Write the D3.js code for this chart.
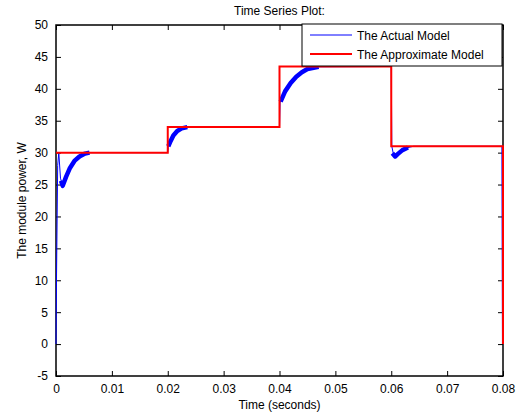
<html>
<head>
<meta charset="utf-8">
<script src="https://cdnjs.cloudflare.com/ajax/libs/d3/7.8.5/d3.min.js"></script>
<style>
  body { margin: 0; background: #fff; }
  text { font-family: "Liberation Sans", Arial, sans-serif; }
</style>
</head>
<body>
<script>
// x ticks (seconds) and y ticks (W)
const xTicks = [0, 0.01, 0.02, 0.03, 0.04, 0.05, 0.06, 0.07, 0.08];
const yTicks = [-5, 0, 5, 10, 15, 20, 25, 30, 35, 40, 45, 50];

// approximate model: step levels
const approxT = [0, 0.02, 0.02, 0.04, 0.04, 0.06, 0.06, 0.08, 0.08];
const approxP = [30, 30, 34, 34, 43.5, 43.5, 31, 31, 0];

// actual model, full trace
const actualT = [0, 0.0001, 0.0003, 0.0005, 0.0008, 0.0012, 0.0018, 0.0025, 0.0033, 0.0042, 0.0052, 0.006, 0.02,
  0.0201, 0.0205, 0.021, 0.0217, 0.0225, 0.0235, 0.04,
  0.0401, 0.041, 0.042, 0.043, 0.044, 0.045, 0.047, 0.06,
  0.0601, 0.0604, 0.0607, 0.0612, 0.062, 0.063, 0.064, 0.0798, 0.0799];
const actualP = [0, 11, 28, 30, 26, 24.8, 26.2, 27.6, 28.7, 29.4, 29.85, 30, 30,
  30.8, 31.8, 32.7, 33.4, 33.8, 34, 34,
  37.8, 39.6, 40.9, 41.9, 42.6, 43.1, 43.45, 43.5,
  31, 29.7, 29.4, 29.8, 30.4, 30.8, 31, 31, 0];

// transient stretches where the ripple makes the trace look thick
const rippleT = [[0.0009, 0.0012, 0.0018, 0.0025, 0.0033, 0.0042, 0.0052, 0.006],
  [0.0201, 0.0205, 0.021, 0.0217, 0.0225, 0.0235],
  [0.0402, 0.041, 0.042, 0.043, 0.044, 0.045, 0.047],
  [0.0602, 0.0604, 0.0607, 0.0612, 0.062, 0.063]];
const rippleP = [[25.6, 24.8, 26.2, 27.6, 28.7, 29.4, 29.85, 30],
  [31, 31.8, 32.7, 33.4, 33.8, 34],
  [38, 39.6, 40.9, 41.9, 42.6, 43.1, 43.45],
  [29.9, 29.7, 29.4, 29.8, 30.4, 30.8]];

const width = 527, height = 418;
const margin = {top: 25, right: 24, bottom: 42, left: 56};

const svg = d3.select('body').append('svg')
  .attr('width', width).attr('height', height);

const x = d3.scaleLinear().domain([0, 0.08]).range([margin.left, width - margin.right]);
const y = d3.scaleLinear().domain([-5, 50]).range([height - margin.bottom, margin.top]);

// axes with inward ticks on all four sides
const fmtX = d => d === 0 ? '0' : d3.format('.2f')(d);
const axisStyle = g => {
  g.select('.domain').remove();
  g.selectAll('line').attr('stroke', '#000');
  g.selectAll('text').attr('font-size', 12).attr('fill', '#000');
};

svg.append('g').attr('transform', `translate(0,${y(-5)})`)
  .call(d3.axisBottom(x).tickValues(xTicks).tickFormat(fmtX).tickSize(-5).tickPadding(8))
  .call(axisStyle);
svg.append('g').attr('transform', `translate(0,${y(50)})`)
  .call(d3.axisTop(x).tickValues(xTicks).tickFormat('').tickSize(-5))
  .call(axisStyle);
svg.append('g').attr('transform', `translate(${x(0)},0)`)
  .call(d3.axisLeft(y).tickValues(yTicks).tickFormat(d => String(d)).tickSize(-5).tickPadding(8))
  .call(axisStyle);
svg.append('g').attr('transform', `translate(${x(0.08)},0)`)
  .call(d3.axisRight(y).tickValues(yTicks).tickFormat('').tickSize(-5))
  .call(axisStyle);

svg.append('rect')
  .attr('x', x(0)).attr('y', y(50))
  .attr('width', x(0.08) - x(0)).attr('height', y(-5) - y(50))
  .attr('fill', 'none').attr('stroke', '#000').attr('stroke-width', 1.5);

const line = d3.line().x(d => x(d[0])).y(d => y(d[1]));
const plot = svg.append('g');

// actual model
plot.append('path')
  .attr('d', line(actualT.map((t, i) => [t, actualP[i]])))
  .attr('fill', 'none').attr('stroke', '#0000ff').attr('stroke-width', 1);

rippleT.forEach((ts, k) => {
  plot.append('path')
    .attr('d', line(ts.map((t, i) => [t, rippleP[k][i]])))
    .attr('fill', 'none').attr('stroke', '#0000ff')
    .attr('stroke-width', 4.5).attr('stroke-linejoin', 'round');
});

// approximate model
plot.append('path')
  .attr('d', line(approxT.map((t, i) => [t, approxP[i]])))
  .attr('fill', 'none').attr('stroke', '#ff0000').attr('stroke-width', 2);

// labels
svg.append('text')
  .attr('x', (x(0) + x(0.08)) / 2).attr('y', 15)
  .attr('text-anchor', 'middle').attr('font-size', 12)
  .text('Time Series Plot:');
svg.append('text')
  .attr('x', (x(0) + x(0.08)) / 2).attr('y', 409)
  .attr('text-anchor', 'middle').attr('font-size', 12)
  .text('Time (seconds)');
svg.append('text')
  .attr('transform', `translate(26,${(y(-5) + y(50)) / 2}) rotate(-90)`)
  .attr('text-anchor', 'middle').attr('font-size', 12)
  .text('The module power, W');

// legend
const legendNames = ['The Actual Model', 'The Approximate Model'];
const legendColors = ['#0000ff', '#ff0000'];
const legendWidths = [1, 2];
const lg = svg.append('g').attr('transform', 'translate(302,24)');
lg.append('rect')
  .attr('width', 200).attr('height', 42)
  .attr('fill', '#fff').attr('stroke', '#000').attr('stroke-width', 1);
legendNames.forEach((name, i) => {
  const yy = 11 + i * 19;
  lg.append('line')
    .attr('x1', 8).attr('x2', 50).attr('y1', yy).attr('y2', yy)
    .attr('stroke', legendColors[i]).attr('stroke-width', legendWidths[i]);
  lg.append('text')
    .attr('x', 55).attr('y', yy + 4.5)
    .attr('font-size', 12)
    .text(name);
});
</script>
</body>
</html>
